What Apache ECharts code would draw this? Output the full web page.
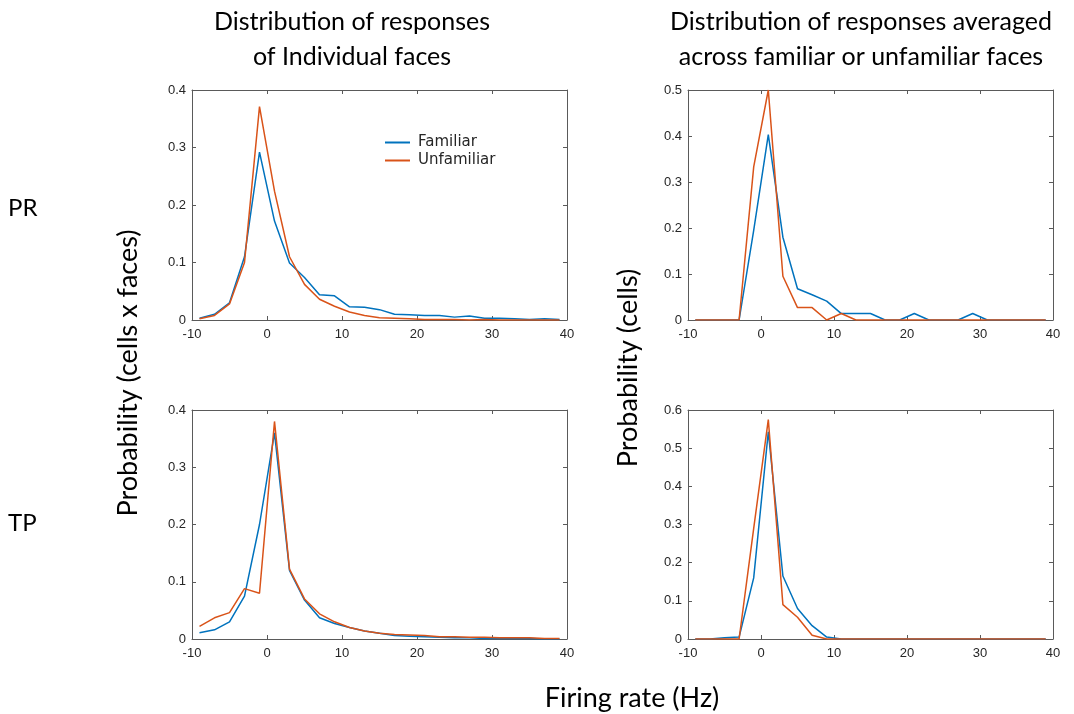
<!DOCTYPE html>
<html>
<head>
<meta charset="utf-8">
<script src="https://cdn.jsdelivr.net/npm/echarts@6/dist/echarts.min.js"></script>
<style>
html,body{margin:0;padding:0;background:#fff;}
#main{width:1074px;height:714px;}
</style>
</head>
<body>
<div id="main"></div>
<script>
// Bin centres (Hz)
const binCenters = [-9,-7,-5,-3,-1,1,3,5,7,9,11,13,15,17,19,21,23,25,27,29,31,33,35,37,39];

// PR, individual faces
const prIndFam = [0.003,0.010,0.030,0.110,0.292,0.172,0.099,0.074,0.044,0.042,0.023,0.022,0.018,0.010,0.009,0.008,0.008,0.005,0.007,0.003,0.003,0.002,0.001,0.002,0.001];
const prIndUnf = [0.002,0.008,0.028,0.100,0.371,0.224,0.110,0.062,0.036,0.024,0.014,0.008,0.004,0.003,0.002,0.001,0.001,0.001,0.000,0.001,0.000,0.000,0.000,0.000,0.000];
// PR, averaged
const prAvgFam = [0,0,0,0,0.195,0.403,0.180,0.068,0.055,0.041,0.014,0.014,0.014,0,0,0.014,0,0,0,0.014,0,0,0,0,0];
const prAvgUnf = [0,0,0,0,0.333,0.500,0.095,0.027,0.027,0,0.014,0,0,0,0,0,0,0,0,0,0,0,0,0,0];
// TP, individual faces
const tpIndFam = [0.011,0.016,0.030,0.075,0.200,0.360,0.120,0.068,0.037,0.027,0.020,0.014,0.010,0.006,0.005,0.004,0.003,0.002,0.002,0.001,0.001,0.001,0.001,0.000,0.000];
const tpIndUnf = [0.022,0.037,0.046,0.088,0.080,0.380,0.122,0.070,0.044,0.030,0.020,0.014,0.010,0.008,0.007,0.006,0.004,0.004,0.003,0.003,0.002,0.002,0.002,0.001,0.001];
// TP, averaged
const tpAvgFam = [0,0,0.003,0.005,0.160,0.543,0.165,0.080,0.035,0.005,0,0,0,0,0,0,0,0,0,0,0,0,0,0,0];
const tpAvgUnf = [0,0,0,0,0.290,0.575,0.090,0.057,0.010,0,0,0,0,0,0,0,0,0,0,0,0,0,0,0,0];

const xTicks = [-10, 0, 10, 20, 30, 40];
const yMax = [0.4, 0.5, 0.4, 0.6];
const seriesNames = ['Familiar', 'Unfamiliar'];

const panels = [
  {fam: prIndFam, unf: prIndUnf},
  {fam: prAvgFam, unf: prAvgUnf},
  {fam: tpIndFam, unf: tpIndUnf},
  {fam: tpAvgFam, unf: tpAvgUnf}
];

const blue = '#0072BD', orange = '#D95319';
const axisColor = '#5a5a5a', labelColor = '#262626';
const grids = [
  {left:192, top:90, width:375, height:230},
  {left:688, top:90, width:365, height:230},
  {left:192, top:410, width:375, height:229},
  {left:688, top:410, width:365, height:229}
];

const xAxes = [], yAxes = [], series = [];
grids.forEach((g, i) => {
  const base = {gridIndex:i, type:'value', min:xTicks[0], max:xTicks[xTicks.length-1], interval:10,
    axisLine:{show:true, onZero:false, lineStyle:{color:axisColor, width:1}},
    axisTick:{show:true, inside:true, length:4, lineStyle:{color:axisColor}},
    splitLine:{show:false}};
  xAxes.push(Object.assign({}, base, {position:'bottom',
    axisLabel:{color:labelColor, fontSize:13, fontFamily:'Liberation Sans', margin:8}}));
  xAxes.push(Object.assign({}, base, {position:'top', axisLabel:{show:false}}));
  const ybase = {gridIndex:i, type:'value', min:0, max:yMax[i], interval:0.1,
    axisLine:{show:true, onZero:false, lineStyle:{color:axisColor, width:1}},
    axisTick:{show:true, inside:true, length:4, lineStyle:{color:axisColor}},
    splitLine:{show:false}};
  yAxes.push(Object.assign({}, ybase, {position:'left',
    axisLabel:{color:labelColor, fontSize:13, fontFamily:'Liberation Sans', margin:6,
      formatter: v => (Math.round(v*10)/10).toString()}}));
  yAxes.push(Object.assign({}, ybase, {position:'right', axisLabel:{show:false}}));
  const p = panels[i];
  [[seriesNames[0], p.fam, blue], [seriesNames[1], p.unf, orange]].forEach(([name, vals, col]) => {
    series.push({
      name: name, type:'line', xAxisIndex:i*2, yAxisIndex:i*2,
      data: binCenters.map((x, k) => [x, vals[k]]),
      symbol:'none', showSymbol:false, animation:false,
      lineStyle:{color:col, width:1.5}, itemStyle:{color:col}
    });
  });
});

const titleFont = '25px Lato';
const labelFont = '27px Lato';
const chart = echarts.init(document.getElementById('main'), null, {renderer:'canvas'});
chart.setOption({
  backgroundColor:'#ffffff',
  animation:false,
  grid: grids,
  xAxis: xAxes,
  yAxis: yAxes,
  series: series,
  legend: {
    data: seriesNames, orient:'vertical', left:385, top:135, padding:0,
    itemWidth:25, itemHeight:2, itemGap:3,
    icon:'rect',
    textStyle:{color:labelColor, fontSize:15, fontFamily:'DejaVu Sans', padding:[0,0,0,3]}
  },
  graphic: [
    {type:'text', x:352, y:22, style:{text:'Distribution of responses', font:titleFont, fill:'#000', align:'center', verticalAlign:'middle'}},
    {type:'text', x:352, y:57, style:{text:'of Individual faces', font:titleFont, fill:'#000', align:'center', verticalAlign:'middle'}},
    {type:'text', x:861, y:22, style:{text:'Distribution of responses averaged', font:titleFont, fill:'#000', align:'center', verticalAlign:'middle'}},
    {type:'text', x:861, y:57, style:{text:'across familiar or unfamiliar faces', font:titleFont, fill:'#000', align:'center', verticalAlign:'middle'}},
    {type:'text', x:8, y:208, style:{text:'PR', font:'24px Lato', fill:'#000', align:'left', verticalAlign:'middle'}},
    {type:'text', x:8, y:523, style:{text:'TP', font:'24px Lato', fill:'#000', align:'left', verticalAlign:'middle'}},
    {type:'text', x:128, y:373, rotation:Math.PI/2, style:{text:'Probability (cells x faces)', font:labelFont, fill:'#000', align:'center', verticalAlign:'middle'}},
    {type:'text', x:628, y:368, rotation:Math.PI/2, style:{text:'Probability (cells)', font:labelFont, fill:'#000', align:'center', verticalAlign:'middle'}},
    {type:'text', x:632, y:698, style:{text:'Firing rate (Hz)', font:labelFont, fill:'#000', align:'center', verticalAlign:'middle'}}
  ]
});
</script>
</body>
</html>
